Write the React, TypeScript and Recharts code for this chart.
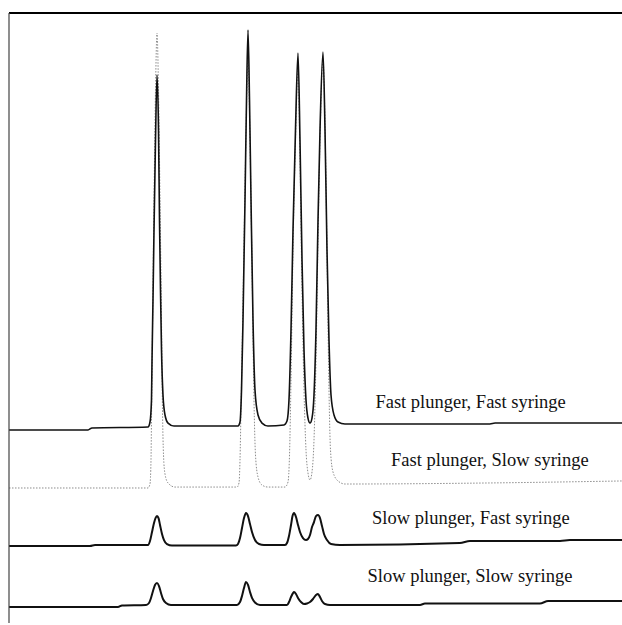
import { LineChart, Line, XAxis, YAxis, ReferenceDot } from 'recharts';

// retention time (min) and detector signal for each run
const fastFastTime = [0, 2.578, 2.708, 4.535, 4.6, 4.649, 4.666, 4.698, 4.731, 4.78, 4.829, 4.878, 4.91, 4.943, 4.976, 5.024, 5.09, 5.188, 5.383, 7.471, 7.537, 7.586, 7.635, 7.7, 7.749, 7.798, 7.847, 7.896, 7.961, 8.026, 8.124, 8.254, 8.45, 8.972, 9.07, 9.135, 9.201, 9.266, 9.347, 9.429, 9.494, 9.56, 9.625, 9.69, 9.755, 9.821, 9.886, 9.951, 10.016, 10.082, 10.147, 10.245, 10.31, 10.375, 10.44, 10.506, 10.604, 10.734, 10.962, 13.41, 15.69, 15.86, 20];
const fastFastSignal = [104.2, 104.2, 105.7, 106.4, 110.2, 126.8, 157.0, 202.3, 255.1, 323.0, 372.1, 330.6, 262.6, 209.8, 164.5, 130.6, 115.5, 109.4, 107.2, 107.2, 110.2, 134.3, 187.2, 277.7, 353.2, 406.0, 353.2, 277.7, 187.2, 134.3, 115.5, 109.4, 107.2, 107.9, 110.9, 126.8, 179.6, 255.1, 330.6, 388.7, 323.0, 232.5, 164.5, 126.8, 113.2, 109.4, 113.2, 130.6, 179.6, 262.6, 330.6, 389.4, 330.6, 240.0, 172.1, 130.6, 115.5, 110.2, 108.7, 108.7, 108.7, 109.4, 109.4];

const fastSlowTime = [0, 4.535, 4.6, 4.633, 4.649, 4.682, 4.731, 4.78, 4.829, 4.878, 4.927, 4.976, 5.008, 5.041, 5.09, 5.188, 5.416, 7.439, 7.504, 7.537, 7.569, 7.635, 7.716, 7.798, 7.879, 7.945, 7.993, 8.042, 8.124, 8.254, 8.45, 9.005, 9.103, 9.152, 9.201, 9.266, 9.347, 9.429, 9.494, 9.56, 9.625, 9.69, 9.755, 9.821, 9.886, 9.951, 10.016, 10.082, 10.147, 10.245, 10.326, 10.392, 10.44, 10.489, 10.571, 10.734, 10.962, 15.69, 20];
const fastSlowSignal = [60.4, 60.4, 63.4, 81.5, 111.7, 179.6, 277.7, 360.8, 403.8, 360.8, 277.7, 187.2, 119.2, 85.3, 70.9, 64.2, 61.1, 61.1, 64.2, 81.5, 119.2, 202.3, 307.9, 383.4, 300.4, 202.3, 126.8, 85.3, 68.7, 62.6, 61.1, 61.1, 64.9, 85.3, 141.9, 240.0, 323.0, 375.8, 307.9, 209.8, 134.3, 89.1, 71.7, 66.4, 72.5, 96.6, 157.0, 247.5, 323.0, 383.4, 315.5, 209.8, 134.3, 89.1, 72.5, 65.7, 63.4, 64.2, 65.7];

const slowFastTime = [0, 2.643, 2.806, 4.535, 4.6, 4.666, 4.731, 4.78, 4.829, 4.878, 4.927, 4.992, 5.057, 5.155, 5.318, 7.406, 7.471, 7.537, 7.602, 7.667, 7.732, 7.798, 7.863, 7.928, 8.026, 8.157, 8.32, 9.005, 9.07, 9.135, 9.201, 9.25, 9.299, 9.364, 9.429, 9.494, 9.592, 9.69, 9.755, 9.821, 9.886, 9.951, 10.016, 10.082, 10.147, 10.212, 10.277, 10.375, 10.506, 10.799, 14.71, 15.04, 17.98, 18.3, 20];
const slowFastSignal = [16.6, 16.6, 17.4, 17.4, 20.4, 27.2, 34.0, 37.7, 39.2, 37.7, 32.5, 25.7, 21.1, 18.1, 17.0, 17.0, 18.1, 22.6, 30.2, 37.7, 41.5, 39.2, 33.2, 27.2, 21.1, 18.1, 17.4, 17.4, 18.9, 24.2, 32.5, 39.2, 41.5, 38.5, 32.5, 27.2, 22.6, 21.1, 21.9, 24.9, 30.9, 34.7, 39.2, 40.0, 37.7, 31.7, 25.7, 21.1, 18.1, 17.4, 18.9, 20.4, 20.4, 21.1, 21.1];

const slowSlowTime = [0, 3.556, 3.687, 4.47, 4.568, 4.633, 4.698, 4.763, 4.829, 4.894, 4.959, 5.024, 5.122, 5.285, 7.439, 7.537, 7.602, 7.667, 7.732, 7.798, 7.863, 7.928, 8.026, 8.189, 9.07, 9.135, 9.201, 9.266, 9.299, 9.364, 9.429, 9.527, 9.625, 9.723, 9.821, 9.918, 10.016, 10.082, 10.147, 10.212, 10.31, 10.473, 13.41, 13.57, 17.32, 17.59, 20];
const slowSlowSignal = [-29.4, -29.4, -28.3, -27.9, -26.4, -22.6, -17.4, -12.8, -11.3, -13.6, -18.9, -23.4, -26.4, -27.9, -27.9, -25.7, -21.1, -15.1, -10.6, -12.8, -18.1, -22.6, -26.0, -27.9, -27.9, -25.7, -21.9, -18.9, -18.1, -19.6, -22.6, -25.7, -27.2, -26.8, -25.7, -23.4, -20.4, -19.6, -21.9, -24.9, -27.2, -27.9, -27.9, -26.8, -26.8, -24.9, -24.9];

const runNames = ['Fast plunger, Fast syringe', 'Fast plunger, Slow syringe', 'Slow plunger, Fast syringe', 'Slow plunger, Slow syringe'];
const labelTimes = [15.06, 15.69, 15.07, 15.04];
const labelLevels = [125.7, 81.7, 38.5, -5.3];

const yTicks = [0, 100, 200, 300, 400];

const toPoints = (times: number[], values: number[]) => times.map((t, i) => ({ t, v: values[i] }));

const labelStyle = {
  fontSize: 18.5,
  fontFamily: '"Liberation Serif", "Times New Roman", serif',
  fill: '#111',
};

export default function App() {
  return (
    <div style={{ position: 'absolute', left: 0, top: 0, width: 622, height: 625, background: '#fff' }}>
      <LineChart width={622} height={625} margin={{ top: 12, right: 0, bottom: 2, left: 8 }}>
        {/* axes need a nonzero size or recharts skips drawing them */}
        <XAxis
          type="number"
          dataKey="t"
          domain={[0, 20]}
          orientation="top"
          height={1}
          tick={false}
          tickLine={false}
          axisLine={{ stroke: '#000', strokeWidth: 2 }}
          allowDataOverflow
        />
        <YAxis
          type="number"
          domain={[-41.5, 418.9]}
          ticks={yTicks}
          width={1}
          tick={false}
          tickSize={3}
          tickLine={{ stroke: '#222' }}
          axisLine={{ stroke: '#444', strokeWidth: 1.2 }}
          allowDataOverflow
        />
        <Line data={toPoints(fastSlowTime, fastSlowSignal)} dataKey="v" type="monotone" dot={false} stroke="#8c8c8c" strokeWidth={1} strokeDasharray="1.5 1.5" isAnimationActive={false} />
        <Line data={toPoints(fastFastTime, fastFastSignal)} dataKey="v" type="monotone" dot={false} stroke="#111" strokeWidth={1.6} isAnimationActive={false} />
        <Line data={toPoints(slowFastTime, slowFastSignal)} dataKey="v" type="monotone" dot={false} stroke="#111" strokeWidth={2} isAnimationActive={false} />
        <Line data={toPoints(slowSlowTime, slowSlowSignal)} dataKey="v" type="monotone" dot={false} stroke="#111" strokeWidth={2} isAnimationActive={false} />
        {runNames.map((name, i) => (
          <ReferenceDot
            key={name}
            x={labelTimes[i]}
            y={labelLevels[i]}
            r={0}
            stroke="none"
            fill="none"
            label={{ value: name, position: 'center', ...labelStyle }}
          />
        ))}
      </LineChart>
    </div>
  );
}
